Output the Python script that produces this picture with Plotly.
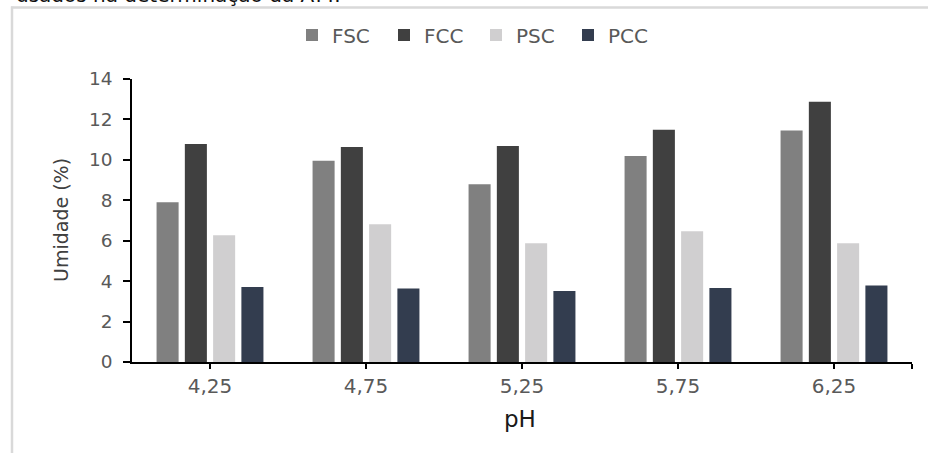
import plotly.graph_objects as go

categories = ["4,25", "4,75", "5,25", "5,75", "6,25"]
fsc = [7.90, 9.95, 8.79, 10.19, 11.45]
fcc = [10.79, 10.64, 10.69, 11.49, 12.88]
psc = [6.27, 6.81, 5.87, 6.47, 5.87]
pcc = [3.71, 3.63, 3.51, 3.66, 3.78]
series_names = ["FSC", "FCC", "PSC", "PCC"]
series_colors = ["#808080", "#404040", "#d0cfd0", "#333d4f"]
y_ticks = [0, 2, 4, 6, 8, 10, 12, 14]

FONT = "DejaVu Sans"
W, H = 928, 453
L, R, T, B = 132, 16, 79, 91
pw, ph = W - L - R, H - T - B


def px_x(p):
    return (p - L) / pw


def px_y(p):
    return (H - B - p) / ph


xs = list(range(len(categories)))
fig = go.Figure()
for name, vals, col in zip(series_names, [fsc, fcc, psc, pcc], series_colors):
    fig.add_trace(go.Bar(x=xs, y=vals, name=name, marker=dict(color=col, line=dict(width=0))))

fig.update_layout(
    width=W, height=H,
    margin=dict(l=L, r=R, t=T, b=B, pad=0),
    paper_bgcolor="white", plot_bgcolor="white",
    barmode="group", bargap=0.275, bargroupgap=0.22,
    font=dict(family=FONT, color="#595959"),
    showlegend=True,
    legend=dict(orientation="h", x=px_x(292), xanchor="left", y=px_y(35), yanchor="middle",
                font=dict(size=20, color="#595959", family=FONT),
                entrywidth=47, entrywidthmode="pixels", itemwidth=30,
                bgcolor="rgba(0,0,0,0)", traceorder="normal"),
    xaxis=dict(range=[-0.5, len(categories) - 0.5],
               tickmode="array", tickvals=xs + [len(categories) - 0.5], ticktext=categories + [""],
               showline=True, linecolor="black", linewidth=1.6, ticks="outside", ticklen=5,
               tickwidth=1.6, tickcolor="black", showgrid=False, zeroline=False,
               tickfont=dict(size=20, color="#595959", family=FONT), fixedrange=True),
    yaxis=dict(range=[0, 14], tickmode="array", tickvals=y_ticks,
               showline=True, linecolor="black", linewidth=1.6, ticks="outside", ticklen=7,
               tickwidth=1.6, tickcolor="black", showgrid=False, zeroline=False,
               tickfont=dict(size=18.5, color="#595959", family=FONT), ticklabelstandoff=7,
               fixedrange=True),
)

fig.add_annotation(text="Umidade (%)", textangle=-90, xref="paper", yref="paper",
                   x=px_x(61), y=px_y(220), xanchor="center", yanchor="middle", showarrow=False,
                   font=dict(size=19, color="#404040", family=FONT))
fig.add_annotation(text="pH", xref="paper", yref="paper",
                   x=px_x(520), y=px_y(419), xanchor="center", yanchor="middle", showarrow=False,
                   font=dict(size=23, color="#1a1a1a", family=FONT))
fig.add_annotation(text="usados na determinação da ATT.", xref="paper", yref="paper",
                   x=px_x(14), y=px_y(9), xanchor="left", yanchor="bottom", showarrow=False,
                   font=dict(size=20, color="#111111", family=FONT))

# outer frame (light gray), top and left edges
fig.add_shape(type="line", xref="paper", yref="paper", x0=px_x(11), x1=px_x(W + 5),
              y0=px_y(7.5), y1=px_y(7.5), line=dict(color="#d9d9d9", width=2.5))
fig.add_shape(type="line", xref="paper", yref="paper", x0=px_x(12), x1=px_x(12),
              y0=px_y(6.5), y1=px_y(H + 5), line=dict(color="#d9d9d9", width=2.5))

fig.write_html("out.html", config={"displayModeBar": False},
               post_script="document.body.style.margin='0';document.body.style.overflow='hidden';")
